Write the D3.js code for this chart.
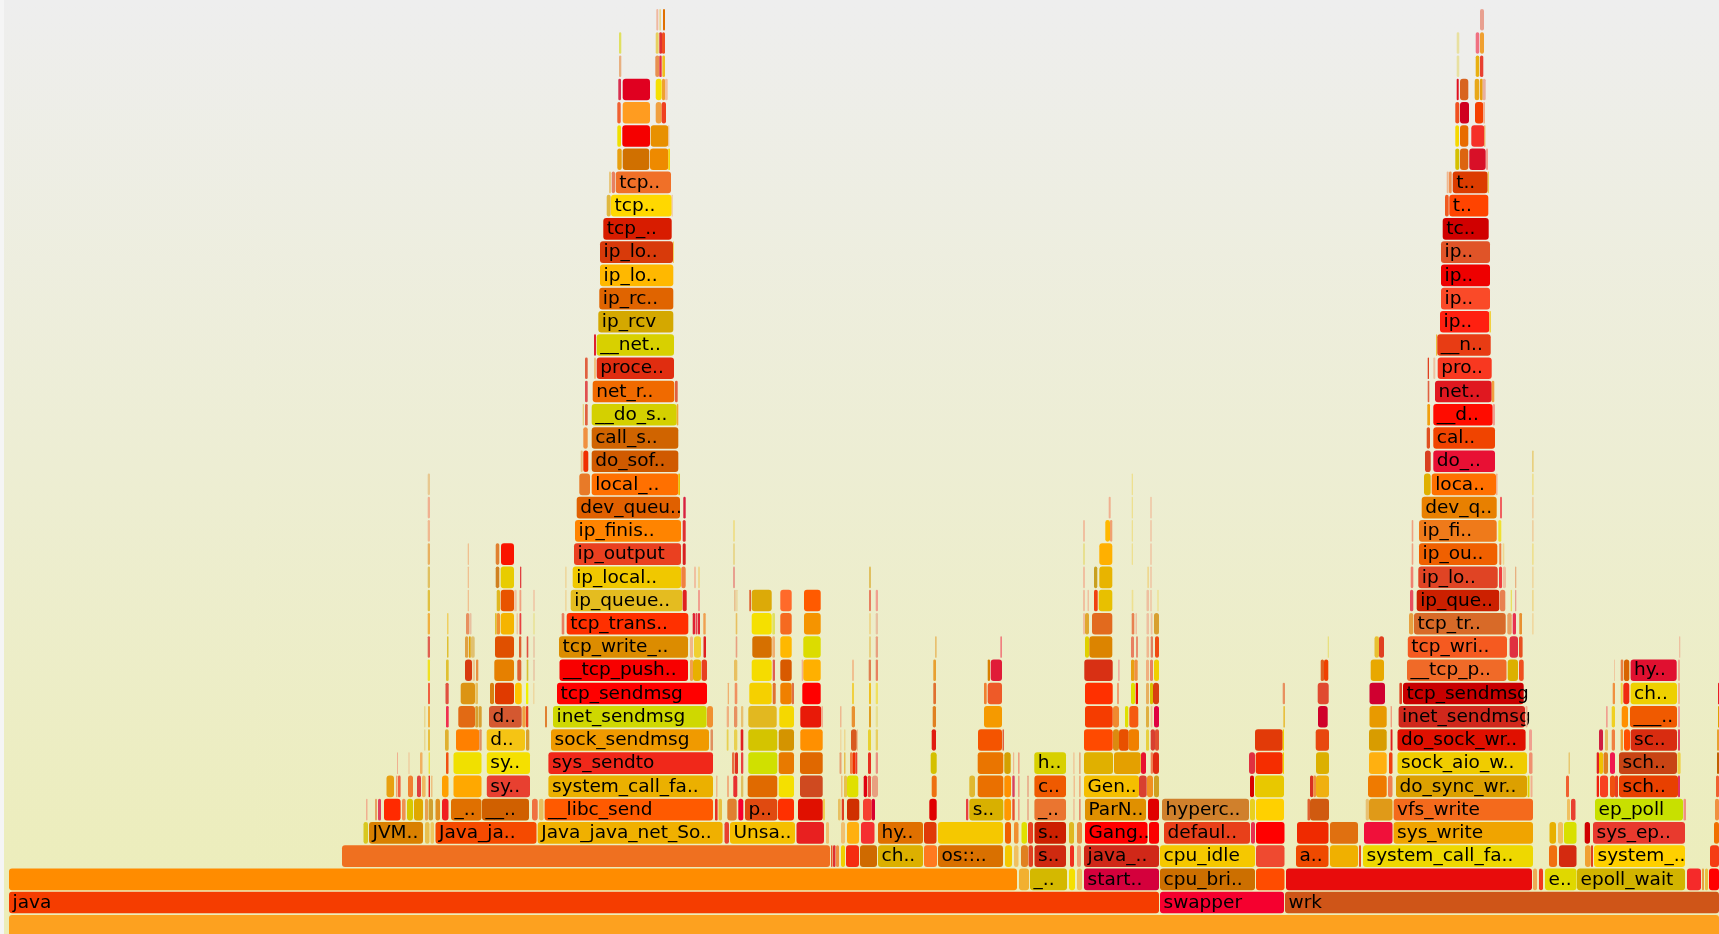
<!DOCTYPE html>
<meta charset="utf-8">
<style>
  html, body { margin: 0; padding: 0; background: #f5f5f5; overflow: hidden; }
  svg { display: block; filter: blur(0.75px); }
  text { font-family: "DejaVu Sans", sans-serif; font-size: 18.5px; fill: #000; }
</style>

<!-- Load d3.js -->
<script src="https://d3js.org/d3.v7.min.js"></script>

<div id="flame"></div>

<script>

  // Each stack depth: [first sample, last sample, label]. Samples run along the whole profile.
  var d00 = [[9,1719]];
  var c00 = ["#fda11f"];

  var d01 = [[9,1159,"java"],[1160,1284,"swapper"],[1285,1719,"wrk"]];
  var c01 = ["#f53d00","#f5002f","#cf5518"];

  var d02 = [[9,1017],[1019,1029],[1030,1067,"_.."],[1069,1075],[1077,1082],[1084,1159,"start.."],[1160,1255,"cpu_bri.."],[1256,1284.5],[1286,1532],[1533,1537],[1539,1543],[1545,1576.5,"e.."],[1577,1685,"epoll_wait"],[1687,1701],[1702,1704],[1705,1708],[1709,1719]];
  var c02 = ["#ff8c00","#f2b030","#d4b800","#f5e000","#eec060","#d4003c","#cc6f00","#ff4c00","#e80c0c","#eeaa55","#f23a1f","#e0d800","#d2b400","#f52a2a","#e6a040","#e8c040","#ff0000"];

  var d03 = [[342,830],[831,832.5],[833,835.5],[836,839],[841,845],[846,859],[860,877],[878,923,"ch.."],[924,937],[938,1003,"os::.."],[1005,1012],[1014,1018.5],[1021,1028],[1028.5,1033],[1034.5,1066,"s.."],[1070,1074],[1077,1081],[1084,1159,"java_.."],[1160,1255,"cpu_idle"],[1256,1284.5],[1296,1328.5,"a.."],[1330,1358],[1359,1361],[1363,1533,"system_call_fa.."],[1549,1557],[1559,1576.5],[1585,1590.7],[1591,1593],[1594,1685,"system_.."],[1710,1719]];
  var c03 = ["#ef7020","#e85a2a","#e03030","#f09040","#f0d000","#f52d10","#cf6a00","#dcb000","#ff7a20","#d97000","#f5c800","#f0c060","#e08020","#e04020","#cf2a10","#f03020","#f0a070","#d02818","#f5c800","#ef4a30","#ef4a00","#f0b000","#e85020","#eed800","#f07010","#d42a10","#f0a030","#e04020","#ffd000","#f53c14"];

  var d04 = [[363.5,368],[369,423,"JVM.."],[425,429.5],[430.5,434],[435.5,536.5,"Java_ja.."],[537.7,722.6,"Java_java_net_So.."],[724.5,729],[730,795,"Unsa.."],[796.5,824],[826,829],[841,845],[847,859],[861,874.5],[878,923,"hy.."],[924,936.5],[938,1003],[1005,1011],[1014,1018.5],[1021.5,1027],[1028,1033],[1034.5,1066,"s.."],[1069,1074],[1077,1082],[1085,1147.5,"Gang.."],[1149,1159],[1164,1250,"defaul.."],[1251,1255],[1256,1284.5],[1297,1328.5],[1330,1358],[1364,1392.5],[1393.6,1533,"sys_write"],[1549.5,1556],[1558,1563],[1564,1576.5],[1584.7,1590],[1593,1685,"sys_ep.."],[1714,1719]];
  var c04 = ["#d8c820","#d98000","#e8c050","#eec860","#f54a00","#f0b000","#e84030","#f5bf00","#e82020","#f0c070","#f0c070","#ffb010","#f53030","#e07000","#e03a08","#f5c800","#f06000","#f09030","#e0e000","#e84020","#cc2000","#e0b820","#e89040","#ff0000","#fa0000","#e8401a","#e83050","#ff0000","#ef2a00","#e07010","#f0103a","#f0a400","#e8b000","#f0c060","#d8e000","#d00000","#e83a2e","#f07000"];

  var d05 = [[366,367.5],[375,377],[378,381],[384,400.6],[402,405.6],[407,413],[414,423],[425,428],[428.6,433],[435.5,440],[442,448.5],[451,481.5,"_.."],[482,529,"__.."],[532,537.7],[539,543.5],[544.6,713,"__libc_send"],[715,717.6],[718.5,722],[727.3,736.7],[738.3,743.3],[745,777.3,"p.."],[778,794],[798,822.7],[823,825],[838,840.7],[841.7,844],[847,859.3],[863,871.7],[871.7,875],[929.3,936.7],[966,968.3],[969.3,1003.3,"s.."],[1004.3,1011],[1012.3,1014.7],[1018,1019.6],[1027.3,1028.7],[1034.4,1066,"_.."],[1073.3,1074.6],[1079,1080.7],[1085,1146,"ParN.."],[1148,1159],[1162,1249,"hyperc.."],[1250,1255],[1256,1284],[1307.5,1310],[1310,1329],[1365.7,1369],[1369,1392.5],[1393.6,1533,"vfs_write"],[1567,1570],[1571,1575.5],[1595,1683,"ep_poll"],[1683.5,1686],[1715,1719]];
  var c05 = ["#f0b090","#e8a060","#e04060","#ff2a00","#f09050","#d8c800","#e0a800","#e8a050","#d0a030","#e09020","#f02020","#e07000","#d06000","#f07040","#e8c060","#ff5a00","#e83020","#e8c040","#e08030","#f80030","#e04a10","#ff3000","#e01000","#f0d050","#e8c060","#e04020","#d03000","#f54030","#d80030","#e00000","#e84040","#d8b000","#ff9800","#e85030","#f0a080","#e8a080","#ea7530","#f0b890","#e89070","#e09000","#e00000","#d0802c","#e8d020","#ffd000","#e06030","#d05a10","#e8c070","#e09a18","#f46a1c","#f0c060","#e84030","#c8e000","#f09080","#f09040"];

  var d06 = [[386.5,394],[396,397.5],[398,400.6],[408,413],[417,421],[422,425.6],[428.6,430],[431,432.5],[442,448.5],[453.5,481.5],[486.8,530,"sy.."],[548.4,713,"system_call_fa.."],[716,717.5],[727,729],[733.3,737.3],[741,743.3],[747.7,777.3],[778.7,794],[800,822.7],[841,842.5],[844,847],[847,858.3],[863.7,867],[867.7,871],[872,878],[931.7,936.7],[969.3,975],[977.7,1003.3],[1004.3,1011],[1012.3,1014.7],[1018,1019.6],[1027.3,1028.7],[1034.4,1066,"c.."],[1073.5,1075],[1079,1080.7],[1084,1139,"Gen.."],[1139,1146.7],[1147,1153],[1154,1159],[1250,1254],[1255,1284],[1310,1313.3],[1313.3,1316],[1316,1329],[1368,1386.7],[1388,1392.5],[1396,1527,"do_sync_wr.."],[1527.6,1529.5],[1530.5,1532.5],[1566,1569],[1596.7,1599],[1600,1608],[1610,1615],[1615,1618],[1619,1678,"sch.."],[1678,1680],[1716,1719]];
  var c06 = ["#e8a010","#f0a070","#f06040","#f08030","#e04040","#f0b860","#e02020","#eec080","#ffa000","#ffa800","#e84030","#ebb000","#eeb888","#f0b080","#e83030","#e0c060","#e06a00","#f5e000","#cf4a20","#eec080","#e8c050","#e0e000","#e00010","#e85040","#e8a080","#ee7010","#e0b830","#ea7000","#ff9000","#d84060","#f0a080","#e8a080","#ef5a00","#f0c090","#eeb080","#f5bf00","#d84030","#f09020","#d0a020","#d80000","#e8c800","#d83020","#f09040","#f0b010","#ef7a00","#f08050","#dca000","#e0d000","#f0b090","#f06030","#f02010","#f84020","#f05010","#e84020","#e84000","#e03060","#f06030"];

  var d07 = [[397,398],[408.5,409.5],[420,422.5],[428.6,430],[446,448.5],[453.5,481.5],[486.8,530,"sy.."],[548.4,713,"sys_sendto"],[732,734.5],[735,738],[741,743.3],[748.3,777.3],[778.7,794],[800,822.7],[839.5,841.5],[844,845.5],[850,852.5],[852.5,855.5],[855.5,857.3],[868,871],[875.7,878],[930.7,936.7],[977.7,1003.3],[1004.3,1010.7],[1013,1014.2],[1018,1019.6],[1034.3,1066,"h.."],[1073.3,1074.5],[1079,1080.7],[1084,1113],[1114,1140.7],[1141,1146],[1150.7,1153],[1153,1159],[1249,1255],[1255.7,1282.7],[1282.7,1284],[1316,1329],[1369,1386.7],[1389,1392.5],[1397.5,1527,"sock_aio_w.."],[1529,1532.5],[1568.5,1570],[1596.7,1599],[1599,1603],[1603.5,1608],[1610,1615],[1619,1677,"sch.."],[1677.5,1680.6],[1717,1719]];
  var c07 = ["#f0b090","#f0c090","#f0b060","#eee040","#f05010","#f0e000","#f5e000","#f0281a","#e87040","#e03020","#e84040","#d0e000","#e87a00","#e06800","#e8a070","#e8c050","#f08040","#f03000","#e84030","#e83020","#e89080","#d4c000","#ea7500","#d4a000","#f0b890","#f0a080","#d8d000","#f0c090","#e8b080","#e0b000","#e4a000","#e81030","#f08050","#e02a10","#e03040","#f52d00","#f0d000","#dcb000","#ffb010","#f04010","#f0cc00","#f09070","#e8c870","#e02020","#f0c000","#e08020","#f01850","#c84414","#f0d040","#c06000"];

  var d08 = [[424,425.5],[428,430],[445,448.7],[456,479.3],[479.3,481.7],[486.7,525,"d.."],[526,529.3],[551,709,"sock_sendmsg"],[710.5,713],[726.7,728.5],[734,737.3],[740.7,743.3],[748.3,777.3],[778.7,794],[800.3,822.7],[840,841.5],[844,845.5],[851,856.7],[857,858],[868,871],[875.7,878],[931.7,936],[978,1002],[1002.5,1004],[1084,1112.7],[1113,1119],[1119,1128.7],[1128.7,1139],[1146,1149],[1150.7,1155],[1155,1159],[1255,1282.7],[1282.7,1284],[1315.7,1329],[1369,1386.7],[1390.6,1392.5],[1397.5,1525.6,"do_sock_wr.."],[1529,1532],[1599,1603],[1605,1608],[1611.7,1615],[1620.6,1623],[1624,1630],[1630.6,1677,"sc.."],[1678,1680],[1717,1719]];
  var c08 = ["#e8d890","#e8c040","#e0b030","#ff8000","#e09060","#f5c414","#d8a030","#f09a00","#e09060","#e8d050","#e8d050","#e02020","#d4c400","#d49400","#ff9000","#eed8a0","#eed890","#d85a20","#eec090","#e8d030","#e8d060","#e01c10","#f45400","#e06040","#ff4a00","#dc8a10","#e85000","#f08000","#e8d040","#d84030","#e05030","#e23a08","#f0d000","#e8480f","#d89c00","#e02020","#e01000","#f0a090","#d02040","#e8c060","#f08040","#f0a030","#ff5000","#d82c10","#e04060","#e8a030"];

  var d09 = [[424,425.5],[428,430],[446,448.7],[458.3,475],[475.3,478],[478.5,481.7],[489,521.7,"d.."],[522.3,525.7],[526,528.3],[545,547],[553,706.6,"inet_sendmsg"],[707,713],[726.7,729],[734,737.3],[741,743.3],[748.3,776.7],[779.3,794],[800.3,821.3],[821.5,823],[840,841.5],[851.7,855],[869,871],[875.7,878],[932.7,936],[984,1002],[1085,1112.7],[1113,1119],[1125,1128.3],[1129.3,1138.3],[1146,1149],[1150.7,1152.5],[1154,1159],[1283.3,1285],[1318,1327.7],[1369.5,1386.7],[1390.6,1392],[1398.6,1525,"inet_sendmsg"],[1525.5,1527.5],[1606,1607.7],[1611.7,1615],[1621.7,1628],[1630,1677,"___.."],[1678,1680],[1718,1719]];
  var c09 = ["#e8d890","#f0b040","#f03050","#e26a14","#d8a030","#d8a030","#d45830","#f0a040","#e84020","#e08030","#cfd800","#f09030","#f0b080","#e89060","#e8c070","#e2b820","#f5d800","#e81a08","#f0b090","#eeb890","#e89030","#e0a020","#e8e090","#e08020","#f59a00","#f53c00","#f08a30","#e0e000","#f55a10","#e0b040","#eec090","#e00040","#e8c040","#d0002a","#e89a00","#f0a080","#d0281c","#f0b090","#f0a090","#f0d020","#ff9000","#f05a00","#f0a0a0","#e0a000"];

  var d10 = [[428,430],[445.5,448.7],[460.7,475],[475.3,478],[490,494],[495,514],[515,521.7],[526,528.3],[533,534.5],[557,707,"tcp_sendmsg"],[727.7,729],[734.7,737.3],[749.3,771.7],[772.7,775.7],[780.3,791.7],[791.7,794],[802.3,820.7],[852,854],[869,871],[875.7,878],[933.3,936],[984,986.7],[987.7,1002],[1085,1112.7],[1117,1119],[1131,1135],[1135.7,1138],[1146,1149],[1150,1153],[1153,1159],[1282.7,1285],[1317.7,1328.7],[1369.5,1385],[1399.4,1402],[1403,1523.7,"tcp_sendmsg"],[1612.7,1615],[1620.7,1622.7],[1623.3,1629.3],[1630.6,1677,"ch.."],[1678,1680],[1718,1719]];
  var c10 = ["#f06040","#e05040","#dc9414","#e8c060","#d88010","#e03a00","#ffc400","#f0f000","#eed8a0","#ff0000","#f0b070","#f09060","#f5d000","#e07030","#f08000","#e07040","#ff0000","#f0d040","#f0c020","#f0e060","#e07030","#f08030","#ee5a28","#ff3000","#f0a070","#e0e000","#e81000","#e8b060","#d8c000","#d84010","#e89060","#e04a30","#d00030","#e04020","#c80000","#f09040","#f0d040","#f02a10","#eed000","#f0b890","#e82020"];

  var d11 = [[427.7,430],[446,448.7],[465,472],[472.7,475],[476,478.3],[494.3,514],[517.3,521.3],[526.7,528.3],[533.3,534.7],[559.5,688,"__tcp_push.."],[690,693],[693,701],[701.6,707],[734,737.3],[751.7,771.7],[772.7,775],[780.3,791.7],[801.7,803.3],[803.3,820.7],[852,854],[868.7,871],[875.7,878],[933.3,936],[987.7,990],[990.7,1002],[1084.3,1112.7],[1118,1119.7],[1131,1134.3],[1134.3,1137.7],[1146,1149],[1150,1153],[1154,1159],[1320.7,1324],[1324,1328.3],[1370.7,1384],[1407,1506.5,"__tcp_p.."],[1507.7,1518],[1519,1523.7],[1614,1615],[1620.7,1623.3],[1624,1629.3],[1630.6,1676.7,"hy.."],[1678,1680]];
  var c11 = ["#f0e020","#e0c030","#d83a10","#eec890","#e89040","#e68000","#e06030","#d8c030","#e8c0a0","#f80000","#f0a050","#e8b000","#e84020","#e8c060","#f5dc00","#e06050","#d85a00","#f0b090","#ffb000","#f0c090","#e08050","#e88060","#e8a030","#d88000","#e01c38","#d83014","#f0b0a0","#e8a010","#f09040","#f0b080","#e88060","#f0d000","#e06020","#f04000","#e8a800","#f06a28","#dcb000","#f05020","#f0c8a0","#e88040","#d86400","#e01030","#eeb090"];

  var d12 = [[427.7,430],[447,448.5],[465,468.3],[469,470.7],[471,474.7],[495,514],[519,521.3],[526.7,528.3],[533.3,534.7],[559,688,"tcp_write_.."],[690,693],[694,701],[703.5,706],[735.7,737.3],[752.3,771.7],[772.3,775],[780.3,791.7],[803.3,820.7],[869,871],[875.7,878],[935,936.7],[1000.3,1002],[1085,1089],[1089.3,1112.3],[1131,1134],[1136,1138],[1146.5,1149],[1150.7,1153],[1155,1159],[1327.7,1329],[1374.5,1379],[1379,1384],[1407.8,1507,"tcp_wri.."],[1509.6,1518],[1519,1522.6],[1679,1680.3]];
  var c12 = ["#e06050","#e0c030","#e0a040","#e0a000","#e0c070","#e05000","#e06030","#e05040","#e8c0a0","#dc8c00","#f0b888","#f0d030","#e02020","#e8a080","#d67000","#f0b070","#ffb800","#dcdc00","#e8d080","#e8a080","#e8c070","#f08080","#e0d000","#dc8400","#e88060","#e89070","#f0b890","#e08060","#f04a10","#e8e080","#e8c030","#e04020","#f55a20","#e03040","#e85020","#eec0a0"];

  var d13 = [[427.7,430],[447,448.5],[466,469.3],[469.5,471.5],[495,496.7],[496.7,500],[500.7,514],[516.5,518],[519.5,521.3],[533.3,534.7],[561.7,564.3],[566.7,688.3,"tcp_trans.."],[692.7,695],[695.5,697.5],[698,700],[703.3,705.7],[735.7,737.3],[751.7,771.7],[772.3,775],[780.3,791.7],[804,820.7],[869,871],[875.7,878],[1083,1085],[1085,1089],[1092,1112.3],[1131.7,1134.3],[1135.5,1137],[1146.5,1149],[1150.7,1152.5],[1154,1159],[1409,1413.3],[1414,1505.7,"tcp_tr.."],[1507.3,1511.7],[1512.7,1516],[1519.3,1522],[1532,1533.7]];
  var c13 = ["#f0b040","#f0d060","#e89060","#e8c0a0","#e0c030","#f09030","#f5b400","#eec8a0","#e84040","#e8e090","#e88060","#ff3000","#e02030","#e84050","#e02030","#f0a050","#e8c060","#f5e000","#e0e060","#f56a20","#f59400","#eed890","#e8c0a0","#f0c0a0","#e0a830","#e26a1e","#e88050","#eec0a0","#eec0a0","#eec0a0","#d8a030","#e8a040","#d86a28","#e8a060","#e83050","#e89030","#f0d8a0"];

  var d14 = [[427.7,430],[467.7,469],[496.7,500],[500.7,514],[514.3,516.7],[519.5,521.3],[533.3,534.7],[565,566.7],[570.7,682.3,"ip_queue.."],[682.7,686.7],[698,700],[734,735.7],[736.3,737.5],[749.3,751],[751.7,771.7],[780.3,791.7],[804,820.7],[869,871],[875.7,878],[1083,1085],[1087.5,1089],[1094,1097.7],[1098.7,1112.3],[1131.7,1133.3],[1146.5,1149],[1150.3,1151.7],[1157.3,1158.7],[1410,1413.3],[1416.7,1499.3,"ip_que.."],[1500,1505.3],[1510.7,1512],[1515,1516.3],[1532,1533.7]];
  var c14 = ["#e0c040","#f0c090","#e0b820","#e85400","#f0c0a0","#f0a080","#f0c0a0","#eed8a0","#e4bc20","#e02020","#f0a090","#e8c090","#e8d090","#e06030","#dcaa08","#ff6a2a","#ff5a00","#e88060","#f0a090","#f0c0a0","#f0c0a0","#f04010","#e8c000","#eee090","#eec0a0","#eec0a0","#eee090","#e85060","#cc2000","#e88050","#e8e060","#e8a090","#eed890"];

  var d15 = [[427.7,430],[467.7,469],[495.7,499.3],[500.7,514],[520,521.3],[565,566.7],[572.7,681,"ip_local.."],[681.3,685.7],[694,696],[698,700],[733,735],[869,871],[1083,1085],[1094,1097.3],[1099.3,1112.3],[1147.3,1149],[1150.3,1151.7],[1410.7,1413.3],[1418.3,1497.7,"ip_lo.."],[1499,1502],[1502.7,1506],[1515,1516.3],[1532,1533.7]];
  var c15 = ["#e0c060","#f0c090","#d08020","#e8cc00","#e04040","#eed8a0","#f0c800","#f08040","#f0c0a0","#eed890","#e8a090","#e0c060","#f0c0a0","#c8a020","#e8b400","#eed890","#f0c0a0","#f08070","#e04424","#f04040","#f0c0a0","#e8b080","#eed8a0"];

  var d16 = [[427.7,430],[467.7,469],[495.7,499.3],[501,514],[574,681,"ip_output"],[682.7,685.7],[733,735],[1083,1085],[1099.3,1112.3],[1131.7,1133],[1150.3,1151.7],[1411.7,1413.3],[1419,1497.3,"ip_ou.."],[1499.3,1501.3],[1502.7,1504.3],[1532,1533.7]];
  var c16 = ["#e8b060","#f0c090","#e08030","#fa1400","#ea4020","#d82020","#e8d890","#e8e090","#ffb000","#eee090","#f0c0a0","#f0a080","#f06000","#f08040","#eed890","#eee090"];

  var d17 = [[427.7,430],[575,681,"ip_finis.."],[682.7,685.7],[733,735],[1083,1085],[1105.3,1110],[1110,1112.3],[1131.7,1133],[1150.3,1151.7],[1411.7,1413.3],[1419,1496.7,"ip_fi.."],[1498.3,1501.3],[1532,1533.7]];
  var c17 = ["#f0b890","#ff8400","#e03030","#eee090","#f0c0a0","#ffb800","#f0a070","#eee090","#f0c0a0","#f0a080","#ef7a1a","#f0e030","#eed0a0"];

  var d18 = [[427.7,430],[576.7,680,"dev_queu.."],[683.3,685.7],[1108.7,1110.7],[1131.7,1133],[1150.3,1151.7],[1421.7,1496.7,"dev_q.."],[1500,1502],[1532,1533.7]];
  var c18 = ["#f0b090","#e06000","#d82040","#f0b090","#eee090","#f0c0a0","#e88000","#f06060","#eed0a0"];

  var d19 = [[427.7,430],[579.3,590],[591.7,678.3,"local_.."],[678.3,680],[1131.7,1133],[1424,1430.7],[1431.7,1496,"loca.."],[1496,1497.5],[1532,1533.7]];
  var c19 = ["#e8c890","#e87a28","#ff7000","#e8c000","#eee090","#e0b000","#ff7000","#f0b090","#eee090"];

  var d20 = [[580.7,582.7],[583.3,588.3],[591.7,678.3,"do_sof.."],[1425,1430.7],[1433.3,1495,"do_.."],[1532,1533.7]];
  var c20 = ["#e8c080","#f03000","#d05a00","#d84020","#e81034","#e8d080"];

  var d21 = [[583.3,587.7],[591.7,678.3,"call_s.."],[1426.7,1430],[1433.3,1495,"cal.."]];
  var c21 = ["#f09040","#d06400","#e05020","#f04400"];

  var d22 = [[582.7,584],[585,587.7],[591.7,676.7,"__do_s.."],[676.7,678.3],[1427.3,1430],[1433.3,1492.7,"__d.."],[1492.7,1495]];
  var c22 = ["#e8d080","#e06040","#d4d000","#f0a830","#f0a010","#ff0c00","#f0a090"];

  var d23 = [[585,587.7],[592.7,674.3,"net_r.."],[675,677.7],[1427.7,1429.3],[1435,1491.7,"net.."],[1491.7,1494.3]];
  var c23 = ["#e05050","#f06a00","#e06040","#e06040","#e01820","#f0a040"];

  var d24 = [[585,587.7],[594,596],[596.7,674,"proce.."],[1427.7,1429],[1433.3,1435.3],[1437.7,1491.7,"pro.."]];
  var c24 = ["#e06040","#f0c080","#e02d10","#e04020","#f0c0a0","#f83820"];

  var d25 = [[594,596],[596.7,674,"__net.."],[1436,1437.3],[1437.3,1490.7,"__n.."]];
  var c25 = ["#e02030","#d8d000","#e8c040","#e83c14"];

  var d26 = [[598.3,673.3,"ip_rcv"],[1440,1489.3,"ip.."],[1489.3,1491]];
  var c26 = ["#d4a800","#ff2010","#f0d040"];

  var d27 = [[599.3,673.3,"ip_rc.."],[1441,1490,"ip.."]];
  var c27 = ["#e06400","#fa4a28"];

  var d28 = [[600,673.3,"ip_lo.."],[1441,1490,"ip.."]];
  var c28 = ["#ffb800","#ee0000"];

  var d29 = [[600,673,"ip_lo.."],[673,674],[1441,1490,"ip.."]];
  var c29 = ["#d83a0a","#f0d060","#e05428"];

  var d30 = [[603.3,671.7,"tcp_.."],[1442.7,1488.7,"tc.."]];
  var c30 = ["#d81c00","#d00000"];

  var d31 = [[606.7,610.7],[611,671.7,"tcp.."],[671.7,672.7],[1445,1448.7],[1449.3,1488.3,"t.."]];
  var c31 = ["#e0b840","#ffd800","#f0c0a0","#f05a20","#ff4400"];

  var d32 = [[609,611],[611.7,615],[615.7,671,"tcp.."],[1446.7,1448.7],[1449,1451.7],[1452.7,1487.7,"t.."],[1487.7,1489]];
  var c32 = ["#e8c880","#e88060","#f07028","#f0b890","#f09050","#dc3c00","#e8d060"];

  var d33 = [[617.3,621.7],[622.7,649.3],[650,668.3],[668.3,670],[1455.3,1459.3],[1460,1468.3],[1469.3,1485.7],[1486,1488]];
  var c33 = ["#e8a010","#d07000","#ee8a00","#f5d800","#d4c000","#dc6410","#d81028","#f0a090"];

  var d34 = [[617.3,621],[622.3,650],[650.7,668.3],[668.3,669.3],[1455.3,1459],[1460,1468.3],[1471.3,1484.3],[1484.3,1485.3]];
  var c34 = ["#f0e000","#f50000","#e89000","#eec090","#f5d800","#e86c00","#f53028","#e8a040"];

  var d35 = [[617.3,620.7],[622.7,650],[655.7,661.7],[661.7,666],[1455.3,1459.3],[1460,1469],[1475,1483.3],[1483.3,1485]];
  var c35 = ["#f06030","#ff9c20","#f0a040","#f04020","#f05020","#d00020","#f54000","#f0b090"];

  var d36 = [[618.3,621],[622.7,650],[655.7,661.7],[662,665],[665,667.7],[1456.7,1458.7],[1460,1468.3],[1474.7,1479.3],[1480,1482.7],[1482.7,1485.7]];
  var c36 = ["#d83050","#e00020","#f5e000","#f0a030","#f0c0a0","#e01020","#d86420","#e8a818","#e8a010","#e8b0a0"];

  var d37 = [[619,621.3],[655.3,659.3],[659.3,661.7],[662.3,665],[1456.7,1459.3],[1475.7,1479.3],[1480,1483.3]];
  var c37 = ["#e8b080","#e89050","#e83040","#f0c020","#e8e0a0","#e8b010","#e84030"];

  var d38 = [[619,621.3],[655.7,658.7],[659.3,662],[662,665],[1456.7,1459.3],[1475.7,1479.3],[1480,1484]];
  var c38 = ["#e0e060","#e8d060","#e03030","#f05020","#e8e0a0","#f07080","#f0a030"];

  var d39 = [[656.3,658.3],[659.3,661],[663,665],[1480,1484]];
  var c39 = ["#f0b8a0","#e8d890","#e07000","#e8a090"];

  var frameRows = [d00,d01,d02,d03,d04,d05,d06,d07,d08,d09,d10,d11,d12,d13,d14,d15,d16,d17,d18,d19,d20,d21,d22,d23,d24,d25,d26,d27,d28,d29,d30,d31,d32,d33,d34,d35,d36,d37,d38,d39];
  var fillRows = [c00,c01,c02,c03,c04,c05,c06,c07,c08,c09,c10,c11,c12,c13,c14,c15,c16,c17,c18,c19,c20,c21,c22,c23,c24,c25,c26,c27,c28,c29,c30,c31,c32,c33,c34,c35,c36,c37,c38,c39];

  // set the dimensions of the graph
  var width = 1719,
      height = 934;

  var svg = d3.select("#flame")
    .append("svg")
      .attr("width", width)
      .attr("height", height);

  // background gradient, grey at the top and pale yellow at the bottom
  var grad = svg.append("defs").append("linearGradient")
      .attr("id", "bg")
      .attr("x1", 0).attr("y1", 0)
      .attr("x2", 0).attr("y2", 1);
  grad.append("stop").attr("offset", "0%").attr("stop-color", "#eeeeee");
  grad.append("stop").attr("offset", "100%").attr("stop-color", "#ecedb8");

  svg.append("rect")
      .attr("x", 4)
      .attr("width", width - 4)
      .attr("height", height)
      .style("fill", "url(#bg)");

  // x is the sample position, y the stack depth
  var x = d3.scaleLinear()
    .domain([9, 1719])
    .range([9, 1719]);

  var y = d3.scaleBand()
    .domain(d3.range(frameRows.length))
    .range([937.4, 8.2])
    .paddingInner(0.07)
    .paddingOuter(0.035);

  // flatten the rows for the data join
  var frames = [];
  frameRows.forEach(function(row, depth) {
    row.forEach(function(f, i) {
      frames.push({depth: depth, start: f[0], end: f[1], label: f[2], fill: fillRows[depth][i]});
    });
  });

  var cell = svg.selectAll("g.frame")
    .data(frames)
    .enter()
    .append("g")
      .attr("class", "frame")
      .attr("transform", function(d) { return "translate(" + x(d.start) + "," + y(d.depth) + ")"; });

  cell.append("rect")
      .attr("width", function(d) { return x(d.end) - x(d.start); })
      .attr("height", y.bandwidth())
      .attr("rx", function(d) { return Math.min(3, (x(d.end) - x(d.start)) / 2); })
      .style("fill", function(d) { return d.fill; });

  cell.filter(function(d) { return d.label; })
    .append("text")
      .attr("x", 3.5)
      .attr("y", 16)
      .text(function(d) { return d.label; });

</script>
